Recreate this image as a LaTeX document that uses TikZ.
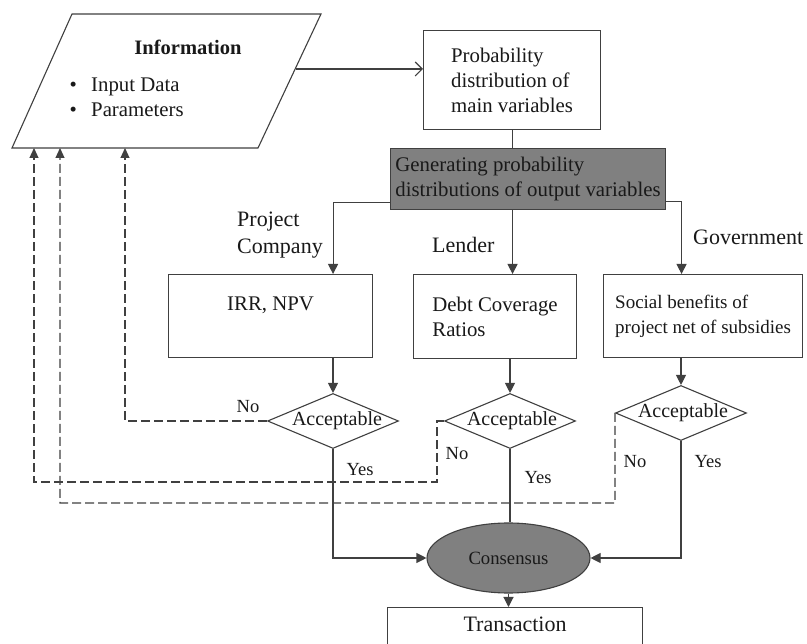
\documentclass[tikz,border=0pt]{standalone}
\usepackage{fontspec}
\setmainfont{Liberation Serif}
\usetikzlibrary{shapes.geometric,arrows.meta}

\tikzset{
  ln/.style={line width=1.1pt, draw=black!75},
  arr/.style={ln, -{Triangle[length=10pt,width=10pt]}},
  openarr/.style={ln, -{Straight Barb[length=7pt,width=14pt,line width=1.1pt]}},
  fb/.style={ln, dash pattern=on 9pt off 4pt, -{Triangle[length=10pt,width=9pt]}},
  box/.style={draw=black!75, line width=1.1pt, rectangle, inner sep=0pt,
    anchor=north west, align=left, text=black!90,
    font=\fontsize{20.8}{25}\selectfont},
  dia/.style={draw=black!75, line width=1.1pt, diamond, inner sep=0pt,
    minimum width=131pt, minimum height=55pt, text=black!90,
    font=\fontsize{20}{24}\selectfont},
  lbl/.style={inner sep=0pt, align=left, text=black!90,
    font=\fontsize{22}{27}\selectfont},
  yn/.style={inner sep=0pt, text=black!90, font=\fontsize{18.5}{22}\selectfont},
}

\begin{document}
\begin{tikzpicture}[x=1pt,y=-1pt]
  \useasboundingbox (0,0) rectangle (807,644);
  \fill[white] (0,0) rectangle (807,644);
  \clip (0,0) rectangle (807,644);

  % input parallelogram
  \draw[ln, fill=white] (72,14) -- (321,14) -- (258,148) -- (12,148) -- cycle;
  \coordinate (pR) at (295.5,69);
  \coordinate (fb1) at (125,148);
  \coordinate (fb2) at (34,148);
  \coordinate (fb3) at (60,148);
  \node[inner sep=0pt, text=black!90, font=\fontsize{20.5}{25}\selectfont\bfseries] (infotitle) at (188,47) {Information};
  \node[inner sep=0pt, anchor=west, align=left, text=black!90, font=\fontsize{20.8}{25}\selectfont] (infolist) at (69.5,97.5)
    {\makebox[21.5pt][l]{\textbullet}Input Data\\\makebox[21.5pt][l]{\textbullet}Parameters};

  % boxes
  \node[box, minimum width=177pt, minimum height=99pt] (prob) at (423,30)
    {Probability\\distribution of\\main variables};
  \node[box, fill=black!50, minimum width=275pt, minimum height=61pt] (gen) at (390,148)
    {Generating probability\\distributions of output variables};
  \node[box, minimum width=204pt, minimum height=83pt] (irr) at (168,274)
    {IRR, NPV\\\mbox{}};
  \node[box, minimum width=163pt, minimum height=84pt] (lender) at (413,274)
    {Debt Coverage\\Ratios};
  \node[box, minimum width=199pt, minimum height=83pt, font=\fontsize{19}{25}\selectfont] (social) at (603,274)
    {Social benefits of\\project net of subsidies};
  \node[box, minimum width=255pt, minimum height=60pt, font=\fontsize{22}{26}\selectfont, align=center] (trans) at (387,607)
    {Transaction\\\mbox{}};

  % decisions
  \node[dia] (d1) at (333,421) {\makebox[0pt]{\hspace{8pt}Acceptable}};
  \node[dia] (d2) at (510,421) {\makebox[0pt]{\hspace{4pt}Acceptable}};
  \node[dia] (d3) at (681,413) {\makebox[0pt]{\hspace{4pt}Acceptable}};

  \node[draw=black!75, line width=1.1pt, ellipse, fill=black!50, inner sep=0pt,
        minimum width=163pt, minimum height=70pt, text=black!90,
        font=\fontsize{18.7}{22}\selectfont] (cons) at (508.5,558) {\makebox[0pt]{Consensus}};

  % stakeholder labels
  \node[lbl, anchor=west] (lpc) at (237,235.5) {Project\\Company};
  \node[lbl, anchor=west] (llend) at (432,245) {Lender};
  \node[lbl, anchor=west] (lgov) at (693,237) {Government};

  % yes / no labels
  \node[yn] (no1) at (248,407) {No};
  \node[yn] (yes1) at (360,470) {Yes};
  \node[yn] (no2) at (457,454) {No};
  \node[yn] (yes2) at (538,478) {Yes};
  \node[yn] (no3) at (635,462) {No};
  \node[yn] (yes3) at (708,462) {Yes};

  % main flow
  \draw[openarr] (pR) -- (pR -| prob.west);
  \draw[ln] (prob.south) -- (prob.south |- gen.north);
  \draw[arr] ([yshift=-23.5pt]gen.west) -| ([xshift=62.5pt]irr.north);
  \draw[arr] ([xshift=-15.5pt]gen.south) -- ([xshift=17.5pt]lender.north);
  \draw[arr] ([yshift=-22.5pt]gen.east) -| ([xshift=-21.5pt]social.north);

  \draw[arr] (d1.north |- irr.south) -- (d1.north);
  \draw[arr] (d2.north |- lender.south) -- (d2.north);
  \draw[arr] (d3.north |- social.south) -- (d3.north);

  \draw[arr] (d1.south) |- (cons.west);
  \draw[ln] (d2.south) -- (d2.south |- cons.north);
  \draw[arr] (d3.south) |- (cons.east);
  \draw[arr] (cons.south) -- (cons.south |- trans.north);

  % feedback loops
  \coordinate (n2) at (437,482);
  \coordinate (n3) at (615,503);
  \draw[fb] (d1.west) -| (fb1);
  \draw[fb] (d2.west) -| (n2) -| (fb2);
  \draw[fb] (d3.west) -- (n3) -| (fb3);
\end{tikzpicture}
\end{document}
